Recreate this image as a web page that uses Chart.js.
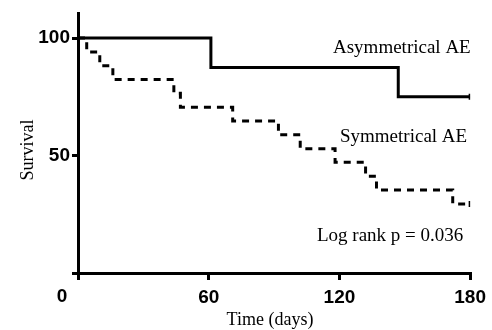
<!DOCTYPE html>
<html>
<head>
<meta charset="utf-8">
<script src="https://cdn.jsdelivr.net/npm/chart.js@4.4.1/dist/chart.umd.min.js"></script>
<style>
  html, body { margin: 0; padding: 0; background: #fff; }
  #wrap { width: 492px; height: 330px; }
</style>
</head>
<body>
<div id="wrap"><canvas id="kmChart"></canvas></div>
<script>
const xTicks = [0, 60, 120, 180];
const yTicks = [0, 50, 100];

const asymDays = [0, 61, 147, 180];
const asymSurvival = [100, 87.5, 75, 75];

const symDays = [0, 4, 10, 16, 44, 47, 71, 92, 102, 118, 132, 137, 172, 180];
const symSurvival = [100, 94.1, 88.2, 82.4, 76.5, 70.6, 64.7, 58.8, 52.9, 47.1, 41.2, 35.3, 29.4, 29.4];

const seriesNames = ['Asymmetrical AE', 'Symmetrical AE'];
const pValueText = 'Log rank p = 0.036';
const xTitle = 'Time (days)';
const yTitle = 'Survival';

const serif = '"Liberation Serif", "Times New Roman", serif';
const sans = '"Liberation Sans", Arial, sans-serif';

function toPoints(xs, ys) {
  return xs.map((x, i) => ({ x, y: ys[i] }));
}

// censor tick only on the last point
function lastOnly(ctx) {
  return ctx.dataIndex === ctx.dataset.data.length - 1 ? 3 : 0;
}

const textPlugin = {
  id: 'kmText',
  afterDraw(chart) {
    const ctx = chart.ctx;
    ctx.save();
    ctx.fillStyle = '#000';

    ctx.font = '19px ' + serif;
    ctx.textAlign = 'left';
    ctx.textBaseline = 'alphabetic';
    ctx.fillText(seriesNames[0], 333, 53);
    ctx.fillText(seriesNames[1], 340, 142);
    ctx.fillText(pValueText, 317, 241);

    ctx.font = '18px ' + serif;
    ctx.textAlign = 'center';
    ctx.fillText(xTitle, 270, 325);

    ctx.save();
    ctx.translate(33, 150);
    ctx.rotate(-Math.PI / 2);
    ctx.fillText(yTitle, 0, 0);
    ctx.restore();

    // the shared origin label sits left of the y axis
    ctx.font = 'bold 19px ' + sans;
    ctx.textBaseline = 'middle';
    ctx.fillText('0', 62, 297);
    ctx.restore();
  }
};

const axisGrid = {
  drawOnChartArea: false,
  drawTicks: true,
  color: '#000',
  lineWidth: 3
};

new Chart(document.getElementById('kmChart'), {
  type: 'line',
  data: {
    datasets: [
      {
        label: seriesNames[0],
        data: toPoints(asymDays, asymSurvival),
        stepped: 'before',
        borderColor: '#000',
        borderWidth: 3,
        fill: false,
        pointStyle: 'line',
        rotation: 90,
        pointRadius: lastOnly,
        pointBorderWidth: 3,
        pointBorderColor: '#000'
      },
      {
        label: seriesNames[1],
        data: toPoints(symDays, symSurvival),
        stepped: 'before',
        borderColor: '#000',
        borderWidth: 3,
        borderDash: [7, 6],
        fill: false,
        pointStyle: 'line',
        rotation: 90,
        pointRadius: lastOnly,
        pointBorderWidth: 3,
        pointBorderColor: '#000'
      }
    ]
  },
  options: {
    responsive: true,
    maintainAspectRatio: false,
    animation: false,
    layout: { padding: { top: 10, right: 19, left: 0, bottom: 0 } },
    plugins: {
      legend: { display: false },
      tooltip: { enabled: false }
    },
    scales: {
      x: {
        type: 'linear',
        min: 0,
        max: 180,
        afterBuildTicks: axis => { axis.ticks = xTicks.map(v => ({ value: v })); },
        afterFit: axis => { axis.height = 57; },
        grid: { ...axisGrid, tickLength: 7 },
        border: { display: true, color: '#000', width: 3 },
        ticks: {
          color: '#000',
          padding: 6,
          maxRotation: 0,
          font: { family: sans, size: 19, weight: 'bold' },
          callback: v => (v === 0 ? '' : String(v))
        }
      },
      y: {
        type: 'linear',
        min: 0,
        max: 110.5,
        afterBuildTicks: axis => { axis.ticks = yTicks.map(v => ({ value: v })); },
        afterFit: axis => { axis.width = 78; },
        grid: { ...axisGrid, tickLength: 6 },
        border: { display: true, color: '#000', width: 3 },
        ticks: {
          color: '#000',
          padding: 2,
          font: { family: sans, size: 19, weight: 'bold' },
          callback: v => (v === 0 ? '' : String(v))
        }
      }
    }
  },
  plugins: [textPlugin]
});
</script>
</body>
</html>
